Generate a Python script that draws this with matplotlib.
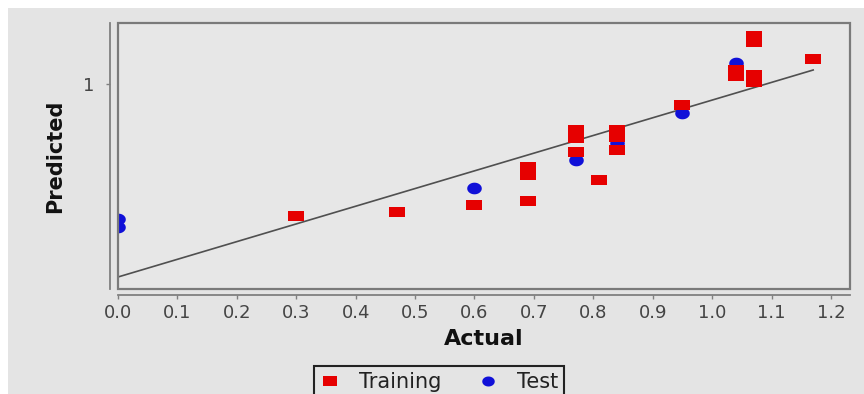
import numpy as np
import matplotlib
import matplotlib.pyplot as plt
from matplotlib.lines import Line2D
from matplotlib.patches import Rectangle

matplotlib.use('agg')

# actual vs predicted values for the two data sets
train_actual = [0.30, 0.47, 0.60, 0.69, 0.69, 0.69, 0.77, 0.77, 0.77, 0.81,
                0.84, 0.84, 0.84, 0.95, 1.04, 1.04, 1.07, 1.07, 1.07, 1.07, 1.17]
train_pred = [0.34, 0.36, 0.395, 0.585, 0.545, 0.415, 0.77, 0.73, 0.66, 0.52,
              0.77, 0.735, 0.67, 0.895, 1.07, 1.04, 1.24, 1.21, 1.045, 1.01, 1.125]
test_actual = [0.0, 0.0, 0.60, 0.77, 0.84, 0.95, 1.04]
test_pred = [0.325, 0.285, 0.48, 0.62, 0.705, 0.855, 1.105]

# fitted line end points
fit_x = [0.0, 1.17]
fit_y = [0.035, 1.07]

x_ticks = [round(0.1 * i, 1) for i in range(13)]
y_ticks = [1]

RED = '#e60000'
BLUE = '#1010d8'
BG = '#e4e4e4'
PLOT_BG = '#e7e7e7'
AXIS_GREY = '#808080'

# flat rectangle and ellipse markers
rect_marker = [(-1, -0.7), (1, -0.7), (1, 0.7), (-1, 0.7), (-1, -0.7)]
t = np.linspace(0, 2 * np.pi, 40)
oval_marker = list(zip(np.cos(t), 0.8 * np.sin(t)))

fig = plt.figure(figsize=(8.64, 3.94), dpi=100, facecolor='white')
fig.patches.append(Rectangle((8 / 864, 0), 1, 1 - 8 / 394, transform=fig.transFigure,
                             facecolor=BG, edgecolor='none', zorder=-10))

ax = fig.add_axes([118 / 864, 1 - 289 / 394, 732 / 864, 266 / 394])
ax.set_facecolor(PLOT_BG)

ax.plot(fit_x, fit_y, color='#505050', lw=1.2, zorder=2)
ax.plot(test_actual, test_pred, linestyle='none', marker=oval_marker,
        markersize=10.5, color=BLUE, markeredgewidth=0, zorder=3)
ax.plot(train_actual, train_pred, linestyle='none', marker=rect_marker,
        markersize=11, color=RED, markeredgewidth=0, zorder=4)

ax.set_xlim(0, 1.232)
ax.set_ylim(-0.025, 1.305)
ax.set_xticks(x_ticks)
ax.set_xticklabels(['{:.1f}'.format(v) for v in x_ticks])
ax.set_yticks(y_ticks)
ax.set_yticklabels(['1'])

for side in ['top', 'right']:
    ax.spines[side].set_visible(False)
ax.spines['left'].set_position(('outward', 6))
ax.spines['bottom'].set_position(('outward', 4.5))
for side in ['left', 'bottom']:
    ax.spines[side].set_color(AXIS_GREY)
    ax.spines[side].set_linewidth(1.3)

# plot outline drawn separately from the offset axis lines
ax.add_patch(Rectangle((0, 0), 1, 1, transform=ax.transAxes, fill=False,
                       edgecolor='#7a7a7a', lw=1.6, clip_on=False, zorder=5))

ax.tick_params(axis='both', direction='out', length=3, width=1,
               color=AXIS_GREY, labelcolor='#444444', labelsize=13)
ax.tick_params(axis='x', pad=3)
ax.tick_params(axis='y', pad=8)

ax.set_xlabel('Actual', fontsize=16, fontweight='bold', color='#111111', labelpad=5)
ax.set_ylabel('Predicted', fontsize=15, fontweight='bold', color='#111111', labelpad=13)

handles = [
    Line2D([], [], linestyle='none', marker=rect_marker, markersize=10,
           color=RED, markeredgewidth=0, label='Training'),
    Line2D([], [], linestyle='none', marker=oval_marker, markersize=9,
           color=BLUE, markeredgewidth=0, label='Test'),
]
leg = fig.legend(handles=handles, loc='upper center', ncol=2,
                 bbox_to_anchor=(439 / 864, 1 - 366 / 394), fontsize=15,
                 frameon=True, fancybox=False, framealpha=1, borderpad=0.3,
                 handlelength=1.0, handletextpad=0.9, columnspacing=1.7,
                 borderaxespad=0)
leg.get_frame().set_facecolor(BG)
leg.get_frame().set_edgecolor('#222222')
leg.get_frame().set_linewidth(1.5)
for txt in leg.get_texts():
    txt.set_color('#222222')

plt.savefig('out.png', dpi=100, facecolor=fig.get_facecolor())
plt.close()
